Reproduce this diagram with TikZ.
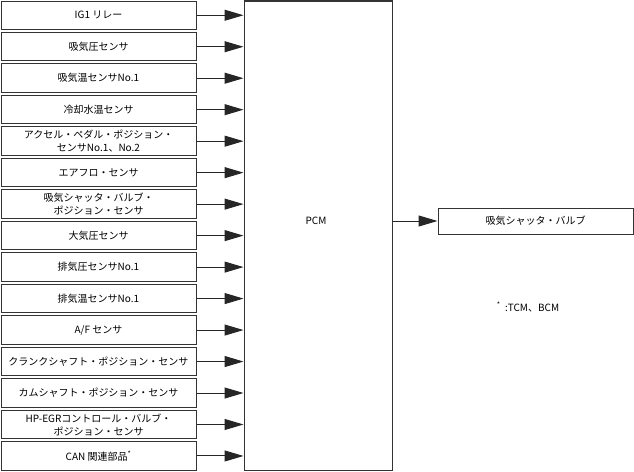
\documentclass[tikz,border=0pt]{standalone}
\usepackage{fontspec}
\setmainfont{Noto Sans CJK JP}
\usetikzlibrary{arrows.meta}
\begin{document}
\begin{tikzpicture}[x=1pt,y=-1pt,
  every node/.style={font=\fontsize{10}{13}\selectfont, inner sep=0pt},
  inbox/.style={draw=black!80, line width=1pt, minimum width=195pt, minimum height=28.5pt, align=center},
  pcmbox/.style={draw=black!80, line width=1pt, minimum width=148pt, minimum height=469pt},
  outbox/.style={draw=black!80, line width=1pt, minimum width=195pt, minimum height=26pt, align=center},
  conn/.style={draw=black!85, line width=1pt, -{Triangle[length=19pt,width=11pt]}}]
\useasboundingbox (0,0) rectangle (634,471);
\node[pcmbox] (pcm) at (318,235.5) {};
\node (pcmlabel) at (316,221) {PCM};
\foreach \i/\t in {0/{IG1 リレー},1/{吸気圧センサ},2/{吸気温センサNo.1},3/{冷却水温センサ},
  4/{アクセル・ペダル・ポジション・\\センサNo.1、No.2},5/{エアフロ・センサ},
  6/{吸気シャッタ・バルブ・\\ポジション・センサ},7/{大気圧センサ},8/{排気圧センサNo.1},
  9/{排気温センサNo.1},10/{A/F センサ},11/{クランクシャフト・ポジション・センサ},
  12/{カムシャフト・ポジション・センサ},13/{HP-EGRコントロール・バルブ・\\ポジション・センサ},
  14/{CAN 関連部品\textsuperscript{*}}}{
  \node[inbox] (in\i) at (98.5,{15.25+31.48*\i}) {\t};
  \draw[conn] (in\i.east) -- (in\i.east -| pcm.west);
}
\node[outbox] (out) at (535.5,221) {吸気シャッタ・バルブ};
\draw[conn] (out.west -| pcm.east) -- (out.west);
\node (note) at (528,307) {\textsuperscript{*}\ \ :TCM、BCM};
\end{tikzpicture}
\end{document}
